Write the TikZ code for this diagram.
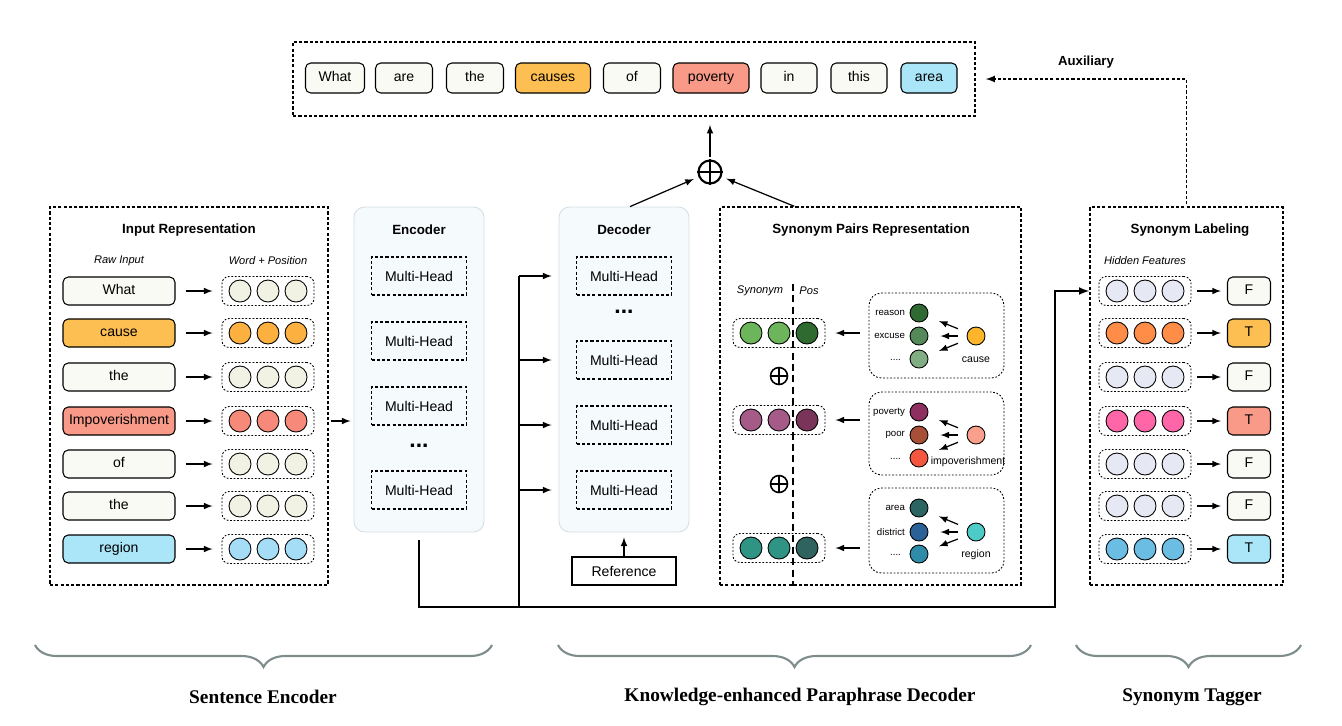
\documentclass[tikz,border=0pt]{standalone}
\usepackage{fontspec}
\setmainfont{Liberation Serif}
\setsansfont{Liberation Sans}
\usepackage{tikz}
\usetikzlibrary{arrows,decorations.pathreplacing}

\definecolor{wplain}{HTML}{FAFAF4}
\definecolor{cplain}{HTML}{F2F2E4}
\definecolor{wcause}{HTML}{FDBE52}
\definecolor{ccause}{HTML}{FBB03F}
\definecolor{wpov}{HTML}{F99A89}
\definecolor{cpov}{HTML}{F7897A}
\definecolor{wreg}{HTML}{AAE6F8}
\definecolor{creg}{HTML}{A4DDF5}
\definecolor{stackfill}{HTML}{F5FAFC}
\definecolor{stackline}{HTML}{D5DEE3}
\definecolor{grnL}{HTML}{6CB55A}
\definecolor{grnP}{HTML}{2F6A30}
\definecolor{reasonc}{HTML}{2F6A33}
\definecolor{excusec}{HTML}{55895A}
\definecolor{grnD}{HTML}{80AE82}
\definecolor{causec}{HTML}{FDB52C}
\definecolor{purL}{HTML}{A55A87}
\definecolor{purP}{HTML}{7A3459}
\definecolor{povc}{HTML}{8E2F5F}
\definecolor{poorc}{HTML}{A84F37}
\definecolor{purD}{HTML}{F45640}
\definecolor{impc}{HTML}{F9A08D}
\definecolor{tealL}{HTML}{2F9484}
\definecolor{tealP}{HTML}{2E6360}
\definecolor{areac}{HTML}{2A6562}
\definecolor{districtc}{HTML}{2A6197}
\definecolor{tealD}{HTML}{2E8CA9}
\definecolor{regc}{HTML}{4DCBC6}
\definecolor{hplain}{HTML}{E6E8F4}
\definecolor{horange}{HTML}{FF8C47}
\definecolor{hpink}{HTML}{FF66A8}
\definecolor{hblue}{HTML}{6CBDE4}
\definecolor{bracegray}{HTML}{7E8C8C}

\tikzset{
  panel/.style={draw, line width=0.9pt, dash pattern=on 1.8pt off 1.2pt},
  grp/.style={draw, line width=0.5pt, dash pattern=on 1pt off 1pt, rounded corners=4pt, minimum width=1.84cm, minimum height=0.58cm},
  subgrp/.style={draw, line width=0.5pt, dash pattern=on 1pt off 1pt, rounded corners=7pt, minimum width=2.7cm},
  dot/.style={circle, draw, line width=0.5pt, minimum size=0.44cm, inner sep=0pt},
  sdot/.style={circle, draw, line width=0.5pt, minimum size=0.36cm, inner sep=0pt},
  word/.style={draw, line width=0.6pt, rounded corners=3pt, minimum height=0.56cm, inner sep=0pt, text height=6pt, text depth=1.6pt, font=\sffamily\fontsize{8}{9}\selectfont},
  mhead/.style={draw, line width=0.9pt, dash pattern=on 1.8pt off 1.2pt, minimum width=1.9cm, minimum height=0.76cm, font=\sffamily\fontsize{8}{9}\selectfont},
  stack/.style={draw=stackline, fill=stackfill, rounded corners=6pt, line width=0.5pt, minimum width=2.6cm, minimum height=6.5cm},
  ptitle/.style={font=\sffamily\bfseries\fontsize{7.6}{9}\selectfont},
  sub/.style={font=\sffamily\itshape\fontsize{6.3}{8}\selectfont},
  syn/.style={font=\sffamily\fontsize{5.5}{7}\selectfont, inner sep=1pt},
  hdots/.style={font=\sffamily\bfseries\fontsize{13}{13}\selectfont},
  arr/.style={-latex, line width=0.7pt},
  bus/.style={line width=1pt},
  vdash/.style={line width=0.7pt, dash pattern=on 4pt off 2.5pt},
  opl/.style={circle, draw, line width=1.2pt, minimum size=0.46cm, inner sep=0pt},
  sopl/.style={circle, draw, line width=0.9pt, minimum size=0.34cm, inner sep=0pt},
  tbrace/.style={decorate, decoration={brace, mirror, amplitude=0.44cm}, draw=bracegray, line width=1.2pt},
  capt/.style={font=\rmfamily\bfseries\fontsize{11}{13}\selectfont},
}

\begin{document}
\begin{tikzpicture}[x=0.02cm, y=-0.02cm]
  \useasboundingbox (0,0) rectangle (1342,725);

  \node[panel, minimum width=13.64cm, minimum height=1.48cm] (out) at (634,79) {};
  \foreach \i/\x/\w/\t/\f in {1/335/What/1.18/wplain, 2/404/are/1.14/wplain, 3/475/the/1.14/wplain,
      4/553/causes/1.5/wcause, 5/632/of/1.14/wplain, 6/711/poverty/1.52/wpov,
      7/789/in/1.12/wplain, 8/859/this/1.12/wplain, 9/929/area/1.12/wreg}
    \node[word, minimum height=0.6cm, minimum width=\t cm, fill=\f] (o\i) at (\x,78) {\w};

  \node[opl] (sum) at (710,172) {};
  \draw[line width=1.2pt] (sum.north) -- (sum.south) (sum.west) -- (sum.east);
  \draw[arr, shorten <=0.04cm, shorten >=0.16cm] (sum) -- (sum |- out.south);

  \node[panel, minimum width=5.56cm, minimum height=7.56cm] (inrep) at (189,396) {};
  \node[ptitle] (inrept) at (189,230) {Input Representation};
  \node[sub] (rawl) at (119,261) {Raw Input};
  \node[sub] (wpl) at (268,261) {Word + Position};
  \foreach \i/\y/\w/\f/\c in {1/291/What/wplain/cplain, 2/333/cause/wcause/ccause, 3/377/the/wplain/cplain,
      4/421/Impoverishment/wpov/cpov, 5/464/of/wplain/cplain, 6/506/the/wplain/cplain, 7/549/region/wreg/creg} {
    \node[word, minimum width=2.24cm, fill=\f] (r\i) at (119,\y) {\w};
    \node[grp] (g\i) at (268,\y) {};
    \node[dot, fill=\c] (g\i a) at (240,\y) {};
    \node[dot, fill=\c] (g\i b) at (268,\y) {};
    \node[dot, fill=\c] (g\i c) at (296,\y) {};
    \draw[arr, shorten <=0.2cm, shorten >=0.18cm] (r\i) -- (g\i);
  }

  \node[stack] (enc) at (419,369.5) {};
  \node[ptitle] (enct) at (419,230) {Encoder};
  \node[mhead] (eh1) at (419,276) {Multi-Head};
  \node[mhead] (eh2) at (419,341) {Multi-Head};
  \node[mhead] (eh3) at (419,406) {Multi-Head};
  \node[hdots] (edots) at (419,446) {...};
  \node[mhead] (eh4) at (419,490) {Multi-Head};
  \draw[arr, shorten <=0.04cm, shorten >=0.06cm] (g4 -| inrep.east) -- (g4 -| enc.west);

  \node[stack] (dec) at (624,369.5) {};
  \node[ptitle] (dect) at (624,230) {Decoder};
  \node[mhead] (dh1) at (624,276) {Multi-Head};
  \node[hdots] (ddots) at (624,312) {...};
  \node[mhead] (dh2) at (624,360) {Multi-Head};
  \node[mhead] (dh3) at (624,425) {Multi-Head};
  \node[mhead] (dh4) at (624,490) {Multi-Head};
  \node[draw, line width=0.8pt, minimum width=2.08cm, minimum height=0.56cm, font=\sffamily\fontsize{8}{9}\selectfont] (ref) at (624,571) {Reference};
  \draw[arr, shorten >=0.1cm] (ref) -- (dec);

  \node[panel, minimum width=6.02cm, minimum height=7.56cm] (synp) at (870.5,396) {};
  \node[ptitle] (synpt) at (871,230) {Synonym Pairs Representation};
  \node[sub] (synl) at (760,291) {Synonym};
  \node[sub] (posl) at (809,291) {Pos};
  \coordinate (vtop) at (793,284);
  \draw[vdash] (vtop) -- (vtop |- synp.south);

  \draw[arr, shorten >=0.1cm] ([xshift=0.12cm]dec.north) -- (sum);
  \draw[arr, shorten >=0.1cm] ([xshift=1.5cm]synp.north west) -- (sum);

  \node[grp] (sg1) at (779,333) {};
  \node[dot, fill=grnL] (sg1 a) at (751,333) {};
  \node[dot, fill=grnL] (sg1 b) at (779,333) {};
  \node[dot, fill=grnP] (sg1 c) at (807,333) {};
  \node[sopl] (sp1) at (779,376) {};
  \draw[line width=0.9pt] (sp1.north) -- (sp1.south) (sp1.west) -- (sp1.east);
  \node[grp] (sg2) at (779,420) {};
  \node[dot, fill=purL] (sg2 a) at (751,420) {};
  \node[dot, fill=purL] (sg2 b) at (779,420) {};
  \node[dot, fill=purP] (sg2 c) at (807,420) {};
  \node[sopl] (sp2) at (779,484) {};
  \draw[line width=0.9pt] (sp2.north) -- (sp2.south) (sp2.west) -- (sp2.east);
  \node[grp] (sg3) at (779,548) {};
  \node[dot, fill=tealL] (sg3 a) at (751,548) {};
  \node[dot, fill=tealL] (sg3 b) at (779,548) {};
  \node[dot, fill=tealP] (sg3 c) at (807,548) {};

  \node[subgrp, minimum height=1.7cm] (sb1) at (936.5,335.5) {};
  \node[sdot, fill=reasonc] (t1a) at (919,313) {};
  \node[sdot, fill=excusec] (t1b) at (919,336) {};
  \node[sdot, fill=grnD] (t1c) at (919,359) {};
  \node[syn, anchor=east] (l1a) at (907,313) {reason};
  \node[syn, anchor=east] (l1b) at (907,336) {excuse};
  \node[syn, anchor=east] (l1c) at (903,360) {....};
  \node[sdot, fill=causec] (src1) at (976,336) {};
  \node[syn, font=\sffamily\fontsize{6}{7}\selectfont] (src1l) at (976,360) {cause};

  \node[subgrp, minimum height=1.66cm] (sb2) at (936.5,433.5) {};
  \node[sdot, fill=povc] (t2a) at (919,412) {};
  \node[sdot, fill=poorc] (t2b) at (919,435) {};
  \node[sdot, fill=purD] (t2c) at (919,458) {};
  \node[syn, anchor=east] (l2a) at (907,412) {poverty};
  \node[syn, anchor=east] (l2b) at (907,435) {poor};
  \node[syn, anchor=east] (l2c) at (903,459) {....};
  \node[sdot, fill=impc] (src2) at (976,435) {};
  \node[syn, font=\sffamily\fontsize{6}{7}\selectfont] (src2l) at (968,462) {impoverishment};

  \node[subgrp, minimum height=1.7cm] (sb3) at (936.5,530.5) {};
  \node[sdot, fill=areac] (t3a) at (919,508) {};
  \node[sdot, fill=districtc] (t3b) at (919,532) {};
  \node[sdot, fill=tealD] (t3c) at (919,554) {};
  \node[syn, anchor=east] (l3a) at (907,508) {area};
  \node[syn, anchor=east] (l3b) at (907,532) {district};
  \node[syn, anchor=east] (l3c) at (903,555) {....};
  \node[sdot, fill=regc] (src3) at (976,532) {};
  \node[syn, font=\sffamily\fontsize{6}{7}\selectfont] (src3l) at (976,555) {region};

  \foreach \k in {1,2,3} {
    \draw[arr, shorten <=0.2cm, shorten >=0.24cm] (src\k) -- (t\k a);
    \draw[arr, shorten <=0.18cm, shorten >=0.24cm] (src\k) -- (t\k b);
    \draw[arr, shorten <=0.2cm, shorten >=0.24cm] (src\k) -- (t\k c);
    \draw[arr, shorten <=0.18cm, shorten >=0.2cm] (sg\k -| sb\k.west) -- (sg\k.east);
  }

  \node[panel, minimum width=3.86cm, minimum height=7.56cm] (lab) at (1186.5,396) {};
  \node[ptitle] (labt) at (1190,230) {Synonym Labeling};
  \node[sub] (hidl) at (1145,261) {Hidden Features};
  \foreach \i/\y/\c/\t/\f in {1/291/hplain/F/wplain, 2/333/horange/T/wcause, 3/377/hplain/F/wplain,
      4/421/hpink/T/wpov, 5/464/hplain/F/wplain, 6/506/hplain/F/wplain, 7/549/hblue/T/wreg} {
    \node[grp] (h\i) at (1145,\y) {};
    \node[dot, fill=\c] (h\i a) at (1117,\y) {};
    \node[dot, fill=\c] (h\i b) at (1145,\y) {};
    \node[dot, fill=\c] (h\i c) at (1173,\y) {};
    \node[word, minimum width=0.86cm, fill=\f] (f\i) at (1249,\y) {\t};
    \draw[arr, shorten <=0.12cm, shorten >=0.12cm] (h\i) -- (f\i);
  }

  \node[font=\sffamily\bfseries\fontsize{7.5}{9}\selectfont] (auxl) at (1086,62) {Auxiliary};
  \draw[line width=0.8pt, dash pattern=on 1.8pt off 1.2pt, -latex, shorten <=0.04cm, shorten >=0.2cm] (lab.north) |- (out.east);

  \coordinate (busL) at (419,607);
  \coordinate (busD) at (519,607);
  \coordinate (busR) at (1055,607);
  \draw[bus, -latex, shorten <=0.16cm] (enc.south) -- (busL) -- (busR) |- (h1 -| lab.west);
  \draw[bus] (busD) -- (busD |- dh1);
  \foreach \k in {1,2,3,4}
    \draw[arr, shorten >=0.14cm] (busD |- dh\k) -- (dh\k -| dec.west);

  \coordinate (b1l) at (35,645);
  \coordinate (b1r) at (492,645);
  \coordinate (b2l) at (558,645);
  \coordinate (b2r) at (1031,645);
  \coordinate (b3l) at (1076,645);
  \coordinate (b3r) at (1301,645);
  \draw[tbrace] (b1l) -- (b1r);
  \draw[tbrace] (b2l) -- (b2r);
  \draw[tbrace] (b3l) -- (b3r);
  \node[capt] (cap1) at (263,697) {Sentence Encoder};
  \node[capt] (cap2) at (800,697) {Knowledge-enhanced Paraphrase Decoder};
  \node[capt] (cap3) at (1192,697) {Synonym Tagger};
\end{tikzpicture}
\end{document}
